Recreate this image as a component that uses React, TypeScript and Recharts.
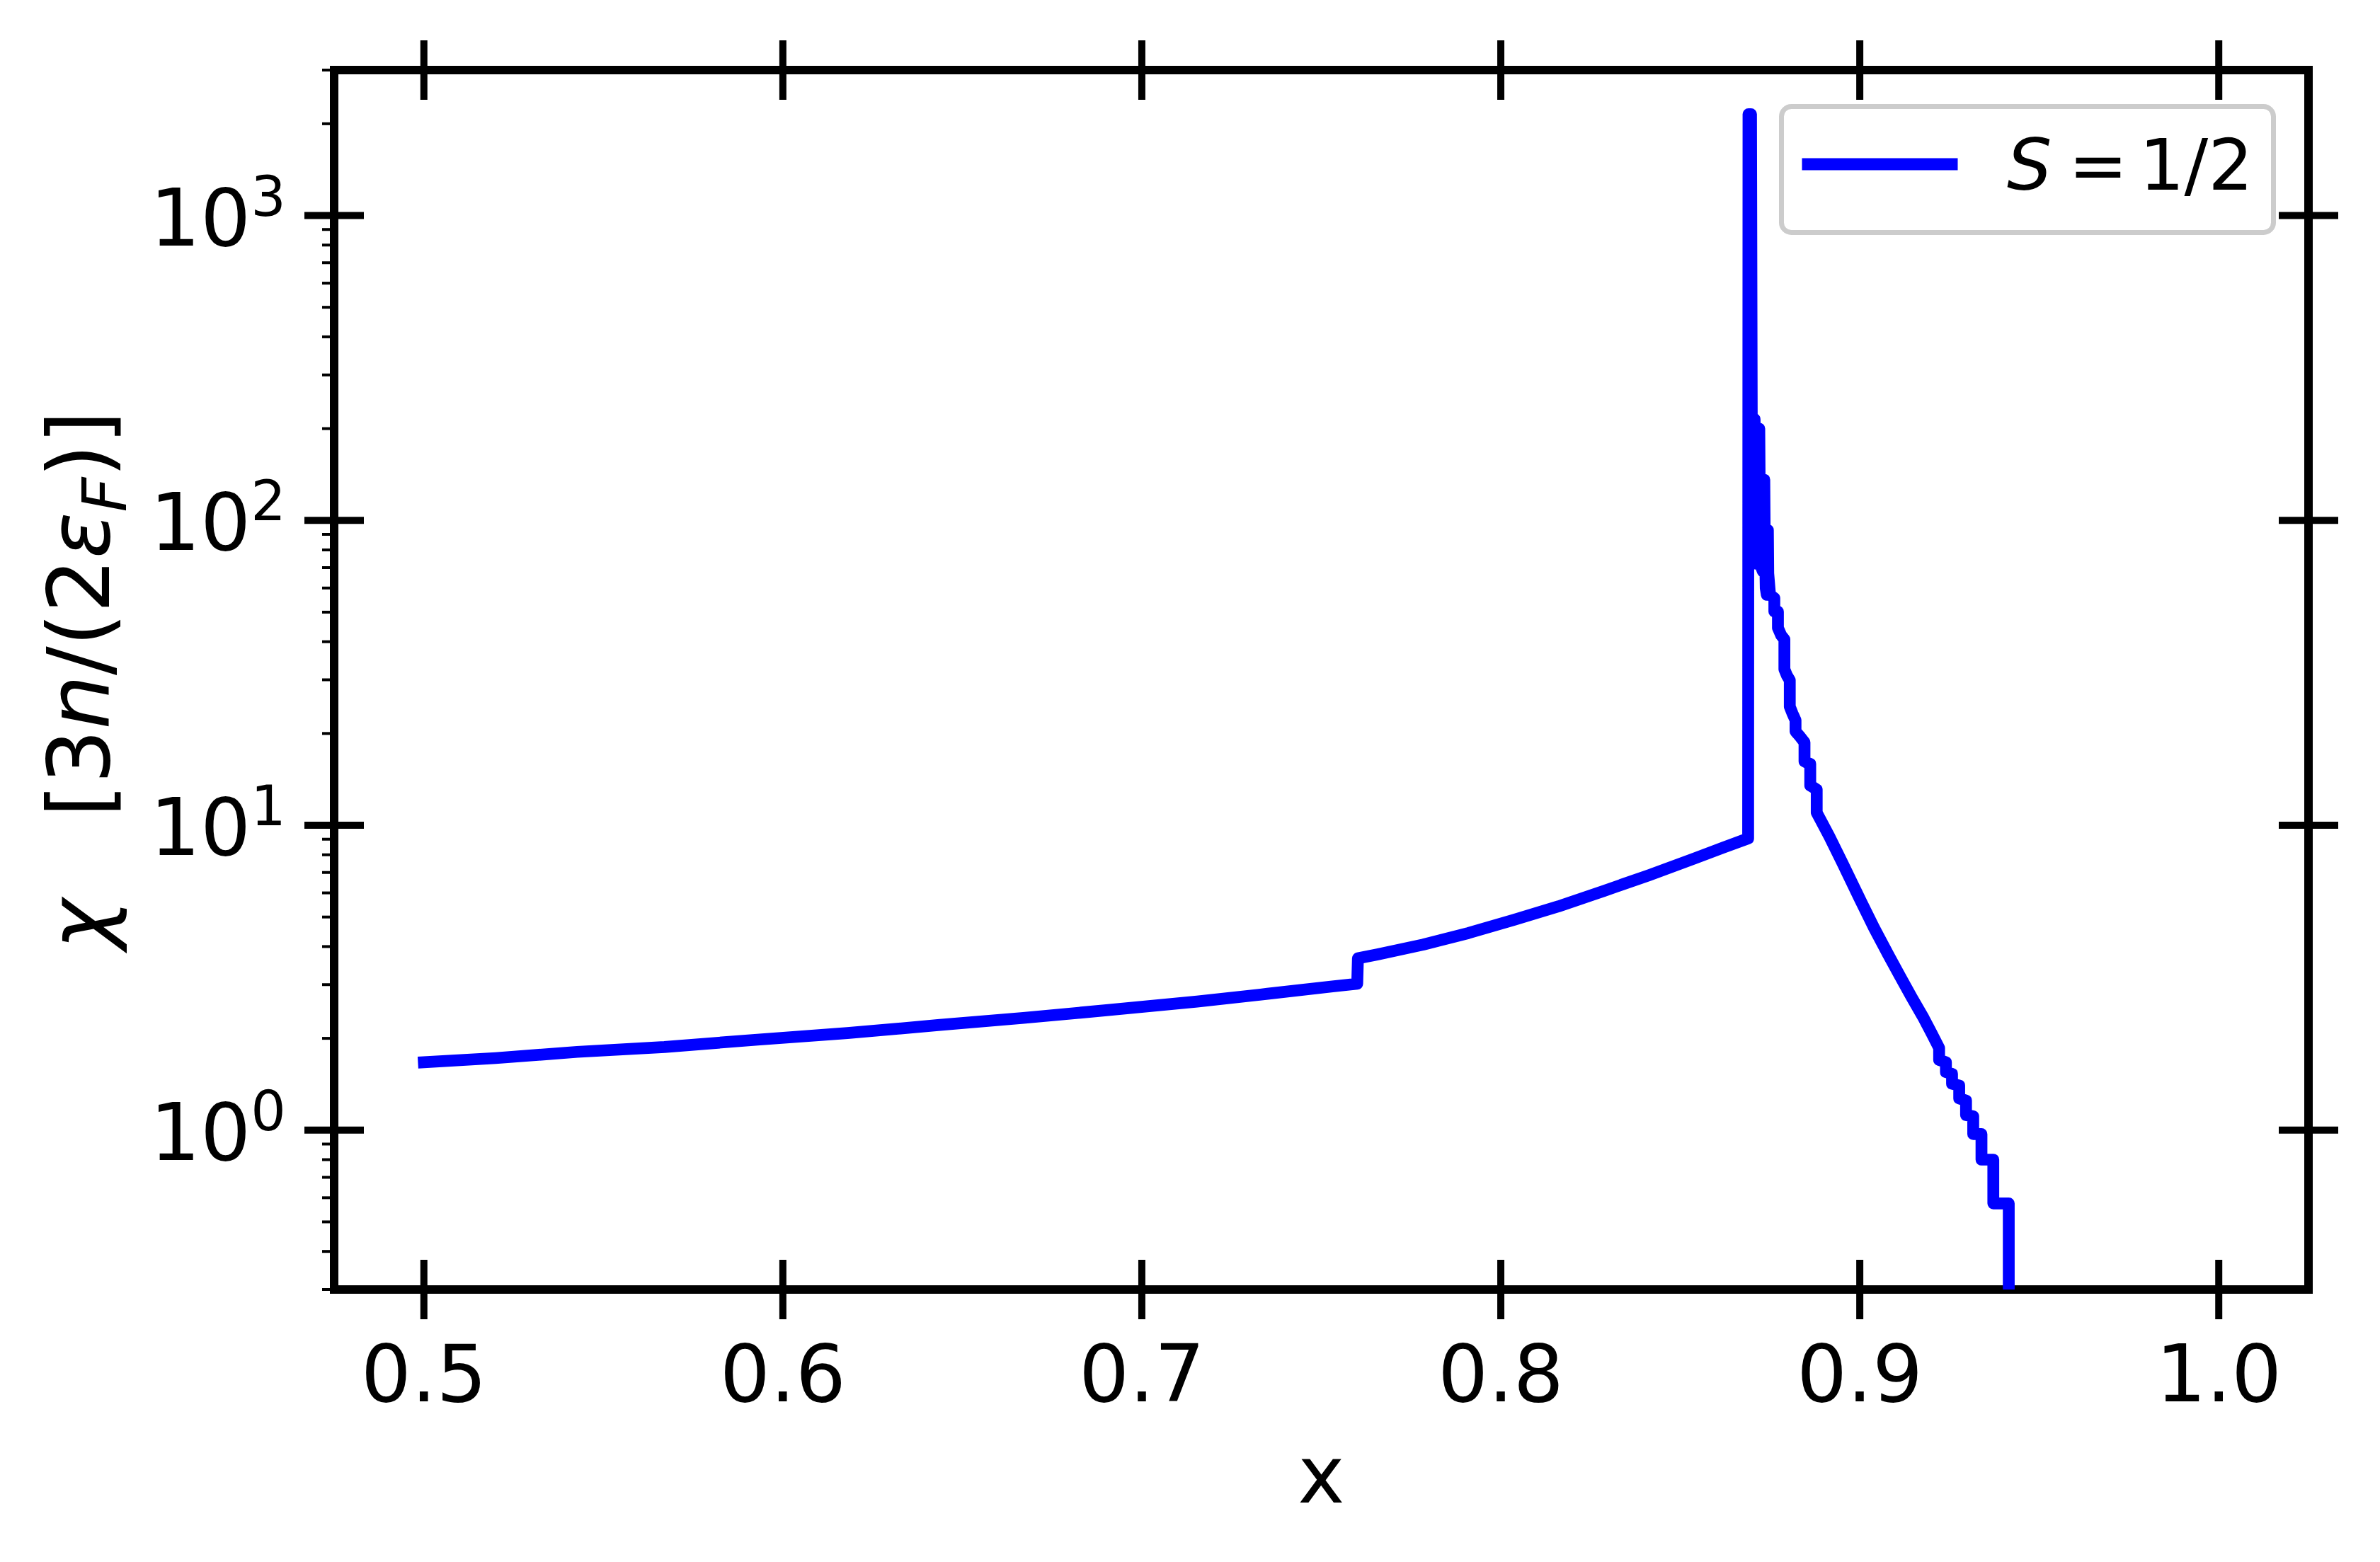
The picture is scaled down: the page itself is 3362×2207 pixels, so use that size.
import React from 'react';
import { LineChart, Line, XAxis, YAxis, ReferenceArea, Legend, Label } from 'recharts';

// ---------- data ----------
const X_VALUES = [
  0.5, 0.52, 0.5427, 0.567, 0.5929, 0.618, 0.6432, 0.667, 0.6896, 0.7154, 0.735, 0.7531, 0.76,
  0.7602, 0.7657, 0.7784, 0.791, 0.8036, 0.8161, 0.8287, 0.8413, 0.8539, 0.862, 0.8689,
  0.869, 0.8697, 0.8699, 0.8702, 0.8707, 0.8713, 0.872, 0.8721, 0.8726, 0.873, 0.8734, 0.8735,
  0.8738, 0.8741, 0.8744, 0.8745,
  0.875, 0.8762, 0.8762, 0.8772, 0.8772, 0.8781, 0.879, 0.879, 0.8797, 0.8805, 0.8805, 0.8813,
  0.8821, 0.8821, 0.8834, 0.8846, 0.8846, 0.8854, 0.8862, 0.8862, 0.8871, 0.888, 0.888, 0.8915,
  0.8951, 0.9001, 0.904, 0.908, 0.9112, 0.9145, 0.9178, 0.92, 0.9221,
  0.9221, 0.924, 0.924, 0.9257, 0.9257, 0.9277, 0.9277, 0.9296, 0.9296, 0.9316, 0.9316, 0.9339,
  0.9339, 0.9372, 0.9372, 0.9415, 0.9415,
];
const CHI_VALUES = [
  1.67, 1.723, 1.805, 1.873, 1.98, 2.081, 2.21, 2.333, 2.47, 2.64, 2.8, 2.96, 3.02,
  3.66, 3.77, 4.06, 4.43, 4.89, 5.42, 6.09, 6.86, 7.78, 8.45, 9.05,
  2150, 2150, 230, 75, 215, 72, 200, 137, 70, 68, 136, 94,
  60, 57, 93, 67,
  57, 55.6, 50.2, 50.2, 44.4, 42, 40.7, 32.5, 31, 29.9, 24.5, 23.2,
  22.1, 20.3, 19.5, 18.7, 16.2, 16.0, 15.9, 13.5, 13.3, 13.1, 11.0, 9.2,
  7.55, 5.7, 4.6, 3.75, 3.2, 2.72, 2.33, 2.08, 1.86,
  1.7, 1.67, 1.55, 1.53, 1.42, 1.4, 1.27, 1.25, 1.12, 1.11, 0.97, 0.97,
  0.8, 0.8, 0.575, 0.575, 0.05,
];

const X_TICKS = [0.5, 0.6, 0.7, 0.8, 0.9, 1.0];
const X_TICK_LABELS = ['0.5', '0.6', '0.7', '0.8', '0.9', '1.0'];
const Y_MAJOR_TICKS = [1, 10, 100, 1000];
const Y_MAJOR_EXPONENTS = ['0', '1', '2', '3'];
const Y_MINOR_TICKS = [
  0.3, 0.4, 0.5, 0.6, 0.7, 0.8, 0.9,
  2, 3, 4, 5, 6, 7, 8, 9,
  20, 30, 40, 50, 60, 70, 80, 90,
  200, 300, 400, 500, 600, 700, 800, 900,
  2000, 3000,
];
const X_DOMAIN = [0.475, 1.025];
const Y_DOMAIN = [0.3, 3000];
const SERIES_NAME = 'S = 1/2';

const data = X_VALUES.map((x, i) => ({ x, chi: CHI_VALUES[i] }));

// ---------- layout ----------
const W = 3362;
const H = 2207;
const MARGIN = { top: 99, right: 101, bottom: 285, left: 372 };
const Y_AXIS_W = 100;
const X_AXIS_H = 100;
const PLOT_LEFT = MARGIN.left + Y_AXIS_W;
const PLOT_RIGHT = W - MARGIN.right;
const PLOT_TOP = MARGIN.top;

const FONT = '"DejaVu Sans", sans-serif';
const FS = 112;
const MAJOR_HALF = 42;
const MAJOR_W = 10;
const MINOR_LEN = 17;
const MINOR_W = 4;

function XTick(props: any) {
  const { x, y, payload } = props;
  const idx = X_TICKS.indexOf(payload.value);
  const label = idx >= 0 ? X_TICK_LABELS[idx] : String(payload.value);
  return (
    <g>
      <line x1={x} x2={x} y1={y - MAJOR_HALF} y2={y + MAJOR_HALF} stroke="#000" strokeWidth={MAJOR_W} />
      <line x1={x} x2={x} y1={PLOT_TOP - MAJOR_HALF} y2={PLOT_TOP + MAJOR_HALF} stroke="#000" strokeWidth={MAJOR_W} />
      <text x={x} y={y + 158} textAnchor="middle" fontFamily={FONT} fontSize={FS} fill="#000">
        {label}
      </text>
    </g>
  );
}

function YTick(props: any) {
  const { x, y, payload } = props;
  const idx = Y_MAJOR_TICKS.indexOf(payload.value);
  if (idx < 0) {
    return <line x1={x - MINOR_LEN} x2={x} y1={y} y2={y} stroke="#000" strokeWidth={MINOR_W} />;
  }
  return (
    <g>
      <line x1={x - MAJOR_HALF} x2={x + MAJOR_HALF} y1={y} y2={y} stroke="#000" strokeWidth={MAJOR_W} />
      <line x1={PLOT_RIGHT - MAJOR_HALF} x2={PLOT_RIGHT + MAJOR_HALF} y1={y} y2={y} stroke="#000" strokeWidth={MAJOR_W} />
      <text x={x - 68} y={y + 42} textAnchor="end" fontFamily={FONT} fontSize={FS} fill="#000">
        <tspan>10</tspan>
        <tspan dy={-42} fontSize={78}>{Y_MAJOR_EXPONENTS[idx]}</tspan>
      </text>
    </g>
  );
}

const YLabel = () => {
  const cx = 154;
  const cy = 961;
  return (
    <text
      x={cx}
      y={cy}
      transform={`rotate(-90, ${cx}, ${cy})`}
      textAnchor="middle"
      fontFamily={FONT}
      fontSize={121}
      fill="#000"
    >
      <tspan fontStyle="italic">χ</tspan>
      <tspan>{'\u00A0\u00A0\u00A0[3'}</tspan>
      <tspan fontStyle="italic">n</tspan>
      <tspan>/(2</tspan>
      <tspan fontStyle="italic">ε</tspan>
      <tspan fontStyle="italic" fontSize={85} dy={24}>F</tspan>
      <tspan dy={-24}>)]</tspan>
    </text>
  );
};

const XLabel = () => (
  <text x={(PLOT_LEFT + PLOT_RIGHT) / 2} y={2123} textAnchor="middle" fontFamily={FONT} fontSize={FS} fill="#000">
    x
  </text>
);

const LegendBox = () => (
  <svg width={702} height={185} style={{ display: 'block' }}>
    <rect x={3.5} y={3.5} width={695} height={178} rx={14} ry={14} fill="#fff" fillOpacity={0.8} stroke="#cccccc" strokeWidth={7} />
    <line x1={41} x2={244} y1={85} y2={85} stroke="#0000ff" strokeWidth={17} strokeLinecap="square" />
    <text y={121} fontFamily={FONT} fontSize={100} fill="#000">
      <tspan x={322} fontStyle="italic">S</tspan>
      <tspan x={409}>=</tspan>
      <tspan x={509}>1/2</tspan>
    </text>
  </svg>
);

export default function App() {
  return (
    <div style={{ position: 'absolute', left: 0, top: 0, width: W, height: H, background: '#fff' }}>
      <LineChart width={W} height={H} data={data} margin={MARGIN}>
        <XAxis
          dataKey="x"
          type="number"
          domain={X_DOMAIN}
          allowDataOverflow
          ticks={X_TICKS}
          interval={0}
          tick={XTick}
          tickLine={false}
          axisLine={false}
          tickSize={0}
          tickMargin={0}
          height={X_AXIS_H}
        >
          <Label content={XLabel} />
        </XAxis>
        <YAxis
          type="number"
          scale="log"
          domain={Y_DOMAIN}
          allowDataOverflow
          ticks={[...Y_MAJOR_TICKS, ...Y_MINOR_TICKS]}
          interval={0}
          tick={YTick}
          tickLine={false}
          axisLine={false}
          tickSize={0}
          tickMargin={0}
          width={Y_AXIS_W}
        >
          <Label content={YLabel} />
        </YAxis>
        <ReferenceArea
          x1={X_DOMAIN[0]}
          x2={X_DOMAIN[1]}
          y1={Y_DOMAIN[0]}
          y2={Y_DOMAIN[1]}
          fill="none"
          stroke="#000"
          strokeWidth={12}
          ifOverflow="visible"
        />
        <Line
          dataKey="chi"
          name={SERIES_NAME}
          type="linear"
          stroke="#0000ff"
          strokeWidth={16.7}
          strokeLinejoin="round"
          strokeLinecap="square"
          dot={false}
          activeDot={false}
          isAnimationActive={false}
        />
        <Legend
          content={LegendBox}
          layout="vertical"
          align="center"
          verticalAlign="middle"
          wrapperStyle={{ left: 2513, top: 147, width: 702, height: 185 }}
        />
      </LineChart>
    </div>
  );
}
